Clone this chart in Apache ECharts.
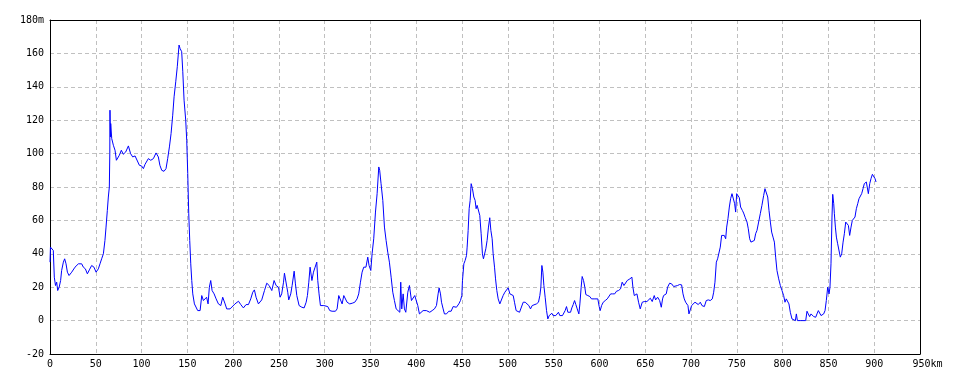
<!DOCTYPE html>
<html>
<head>
<meta charset="utf-8">
<script src="https://cdn.jsdelivr.net/npm/echarts@6/dist/echarts.min.js"></script>
<style>
html,body{margin:0;padding:0;background:#fff;}
#chart{width:960px;height:384px;}
</style>
</head>
<body>
<div id="chart"></div>
<script>
const xTicks = [0,50,100,150,200,250,300,350,400,450,500,550,600,650,700,750,800,850,900,950];
const yTicks = [-20,0,20,40,60,80,100,120,140,160,180];
const distanceKm = [
0,0.5,2,3.6,4.7,6,7.3,8.4,10,11.6,12.7,14.6,16,17.5,19,20.8,23.7,27.3,31,32.8,34.6,36.4,38.6,40.8,43,45.5,48,50.3,52.8,54.6,56.4,58.3,60,61.2,62.6,63.7,64.8,65.3,65.5,66,66.3,67.4,69.2,71,72.5,73.6,75.7,77.9,80,82.7,85.6,88,90.3,92.9,94.7,97.6,100,102,103.8,105.6,107.4,110,112.9,115.8,118.3,120,122,124.5,126.7,128.5,130.4,132.2,134,135.5,137.3,139,140.9,142,143.8,145,146.4,148.2,149.3,150.4,151.5,152.6,153.7,154.8,155.9,157.7,159.5,161.3,163.9,165.7,167.5,169.3,171,172.6,174,175.5,177,179.2,181.4,183.9,186.5,188.6,191.2,193,196.6,198.5,202,205.8,208.3,211.2,214.1,216.7,219.2,221.4,223.2,225,227.6,231.2,234.2,236.7,239.3,242.2,244.7,246.9,249.5,251.3,253,255,256,257.8,259.6,260.7,262.9,264.4,266.6,268,269.5,272,275,277.5,279.7,281.1,282.6,284,286,287.7,289.5,291.3,292.4,293.8,295.3,297,299,300.7,303.3,305.5,308,311.7,313.5,315.3,317,319,320.8,322.6,324.4,327.3,330,332.8,335.3,337.1,339,340.8,342.6,345,347,348.4,350.3,351.7,353.5,355.4,357.2,359,360,361.5,363.4,365.2,367,368.8,370.6,372.5,374.3,376.1,378,379.8,382,383,384.1,385.6,387,388.5,390.7,392.5,393.6,394.7,396.5,398.3,400.2,401.6,403.4,405.2,407.4,409.2,411,412.9,414.7,417.3,419.8,422,423.8,424.9,426.4,427.5,429.3,430.7,432.9,435.5,438,440.2,441.7,443.8,446.4,448.2,449.7,450.4,451.9,453.3,454.8,455.5,456.6,457.7,458.8,459.9,461.3,462.8,464.2,465.3,466.4,467.9,469.3,470.8,472.2,473.3,474.4,475.9,477.3,478.8,480.2,481.4,482.8,483.9,485.4,486.5,487.9,489.4,491.2,493,494.8,496.7,498.5,500.3,502.2,504,505.8,507.2,509,510.9,512.7,514.5,516.7,518.9,521,522.9,524.7,526.5,528.3,531.2,533.4,534.9,536,537.1,538.2,539.3,540.7,542.2,543.6,545.1,546.5,548,549.4,550.8,552.3,553.8,555.2,556.7,558.1,559.6,561,562.5,564,565.5,566.9,568.4,569.8,571.3,572.8,574.2,575.7,577.5,578.6,580,581.1,582.6,584,585.1,587.3,589.5,591.3,593.1,595,596.8,598.2,599.7,600.8,602.3,604.1,606.3,608.5,610.3,612.2,614.4,616.6,618.6,620.8,623,624.8,626.7,628.5,630.3,633.2,635.4,636.5,638,639.4,640.9,642.7,644.5,646.7,648.9,651.8,653.6,655.5,657.6,659.8,661.3,663.5,665.7,667.5,668.9,670,671.5,672.9,674.4,676.6,678.8,681,683.1,685.3,687.5,689.7,691.2,692.6,694.1,695.5,696.6,697.7,699.2,700.6,702.1,704.3,705.7,707.9,710.1,711.9,714.5,716.6,718.8,721,723.2,724.7,726.1,727.6,729,730.5,731.9,733.4,734.9,736.3,737.8,738.9,740.3,741.8,743.2,744.7,746.2,747.6,748.7,749.8,751.2,752.7,754.1,756,757.4,759.2,761.1,762.5,764,765.4,767.3,769.1,770.5,772,773.8,775.6,777.4,779.3,780.7,782.2,783.7,785.1,786.6,788,789.5,791,792.4,793.8,795.7,797.5,799.3,801.1,802.6,804,805.5,806.9,808.4,810.2,812,813.9,815,816.1,817.5,819.3,822.2,825.2,826.6,828,829.5,831,832.4,833.9,836.1,837.5,839,840.5,841.9,843.4,844.8,846.3,847.7,849.2,850.7,851.7,852.8,853.9,854.7,855.8,856.5,857.6,858.7,860.1,861.6,863,864.5,866,867.4,868.9,870.3,871.8,873.2,874.7,876.1,877.6,879,880.5,882,883.4,884.9,886.3,887.8,889.2,891.4,893.6,895.1,896.5,898,899.5,900.9,902
];
const elevationM = [
35,44,43,42,26,21,23,18,20,24,30,35,37,34,29,27,29,32,34,35,34,32,31,28,30.4,33,32,29,31,34,37,40,48,56,66,74,80,100,126,110,118,109,105,102,96,97,99,102,99.6,101,104.6,100,98,98.6,99,93,92.6,91,93.6,94,97,96,97,100.4,98,93,90,89.4,91,97,104,112,123,134,143,152,165,163,161,149,132,120,108,88,64,48,34,24,16,10,9,6,6,15,12,13,14,10,20,24,18,16,13,10,9,14,10,7,7,8,10,11.6,9.6,7.6,9.6,9.6,13,17,18.4,14,10,12.4,18,22.4,21,18,24,21,20,14,16,23,28.4,27.6,17,12.4,16,21,29.6,22,15,9,8,7.6,11,15,23,32,24,29,32,35,24,16,9,9,9,9,8.4,6,5.6,5.6,7,15,15.6,10,15,14,11,10,10.4,11,13,16,23,29,32,32,38,33,30,40,49,65,76,92,90,82,72,56,48,41,35,26,17,12,7,6,5,23,7,16,7,5,17,21,22,12,13,15,14,9,4,5,6,6.4,6,7,5,6,7,9,16,19.6,16,11,7,4,4,5.6,5.6,8.4,9,8,10,12,15,24,34,36,39,44,54,67,72,82,79,74,72,67,69,68,63,52,40,37,36,43,48,56,61.6,54,49,40,32,25,18,13,10,11,15,17,17.6,19.6,16,15,15,11,6,7,5,6,11,11,10,9,7,9,10,10,11,15,20,33,29,21,14,6,1,3,3,4.4,3,4,3,4,5,3,4,3,4,6,8.4,5,4,5,7.6,9.6,12,9.6,7,4,10,20,26.4,24,20,15.6,15,14.4,13,12,13,14,13,8.4,6,9,11,12,13,14,16,16,16,17.6,18,19,23,21,22,24,25,26,20,15,16,16,11,7,11,11.4,11.4,11.4,13.4,11.4,15,12.4,14,12,8,13,15,14,16,20,22.4,22,20.4,20,21,21.6,21.4,16,13,11,12,9,4,4,9,10,11,11,9.6,11,9,8.4,12,12.4,12,13,17,23,35,37,38,44,51,51.4,51,49,56,61,68,73,76,75.4,70,65,76,75,73.6,68,66,64.4,61.6,59,55,49,47,46.4,48,52,54,59,64,69,75,79,79.6,74,66,59,53,50,47,38,30,25,21,18,15,11,13,13.4,10,5,1,0,0,4,0,-1,0,0,0,5.6,4,2.4,4,3,2.4,2,4,6,7,3,3.4,4,6,12,20,16,20,34,62,75.6,70,64,56,50,46,45.4,38,40,47,52,59,58.4,57,51,56,60,61,62,67,70,73,74,76,79,82,83,76,82,85,87.6,87.6,85,83
];

const profile = distanceKm.map((d, i) => [d, elevationM[i]]);
const font = "'DejaVu Sans Mono', monospace";
const xMin = xTicks[0], xMax = xTicks[xTicks.length - 1];
const yMin = yTicks[0], yMax = yTicks[yTicks.length - 1];
const border = {show: true, onZero: false, lineStyle: {color: '#000', width: 1}};
const dashed = {show: true, lineStyle: {color: '#c0c0c0', type: [4, 3], width: 1}};

const chart = echarts.init(document.getElementById('chart'), null, {renderer: 'canvas'});
chart.setOption({
  animation: false,
  backgroundColor: '#fff',
  grid: {left: 50, right: 40, top: 20, bottom: 30, show: false},
  xAxis: [{
    type: 'value', min: xMin, max: xMax, interval: 50, position: 'bottom',
    axisLine: border, axisTick: {show: false}, splitLine: dashed,
    axisLabel: {
      color: '#000', fontFamily: font, fontSize: 10, margin: 5,
      formatter: v => v === 950 ? '{p|}' + v + 'km' : String(v),
      rich: {p: {width: 15, fontSize: 10, fontFamily: font}}
    }
  }, {
    type: 'value', min: xMin, max: xMax, interval: 50, position: 'top',
    axisLine: border, axisTick: {show: false}, splitLine: {show: false}, axisLabel: {show: false}
  }],
  yAxis: [{
    type: 'value', min: yMin, max: yMax, interval: 20, position: 'left',
    axisLine: border, axisTick: {show: false}, splitLine: dashed,
    axisLabel: {
      color: '#000', fontFamily: font, fontSize: 10, margin: 6,
      formatter: v => v === 180 ? v + 'm' : String(v)
    }
  }, {
    type: 'value', min: yMin, max: yMax, interval: 20, position: 'right',
    axisLine: border, axisTick: {show: false}, splitLine: {show: false}, axisLabel: {show: false}
  }],
  series: [{
    type: 'line', data: profile, showSymbol: false, symbol: 'none',
    xAxisIndex: 0, yAxisIndex: 0,
    lineStyle: {color: '#0000ff', width: 1}, itemStyle: {color: '#0000ff'}
  }]
});
</script>
</body>
</html>
